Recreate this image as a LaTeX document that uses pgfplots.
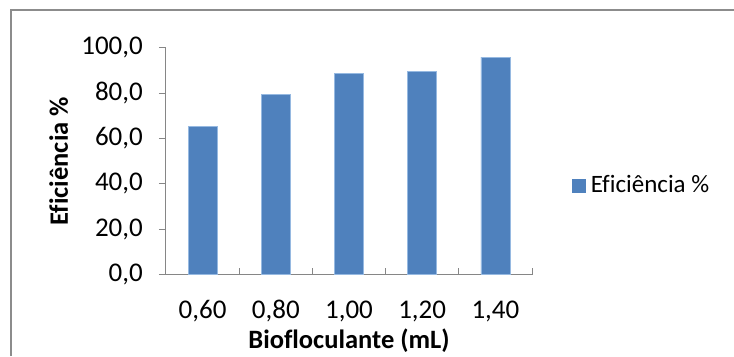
\documentclass[border=0pt]{standalone}
\usepackage{fontspec}
\setmainfont{Carlito}[Ligatures=NoCommon]
\usepackage{pgfplots}
\pgfplotsset{compat=1.18}
\definecolor{barblue}{RGB}{79,129,189}
\definecolor{baredge}{RGB}{150,185,225}
\definecolor{axisgray}{RGB}{134,134,134}
\definecolor{framegray}{RGB}{140,140,140}
\begin{document}
\fontsize{25bp}{30bp}\selectfont
\begin{tikzpicture}[x=1bp,y=1bp]
\path[use as bounding box] (-166,-81.3) rectangle (568,274.7);
% chart area border
\draw[framegray, line width=1.5bp] (-155,-81.3) -- (-155,264.7) -- (568,264.7);
\begin{axis}[
  at={(0,0)}, anchor=south west,
  scale only axis, width=366bp, height=227bp,
  xmin=-0.5, xmax=4.5, ymin=0, ymax=100,
  axis x line*=bottom, axis y line*=left,
  axis line style={axisgray, line width=1bp},
  ybar, bar width=29bp,
  xtick={0,1,2,3,4},
  xticklabels={0{,}60,0{,}80,1{,}00,1{,}20,1{,}40},
  major x tick style={draw=none},
  minor xtick={-0.5,0.5,1.5,2.5,3.5,4.5},
  minor x tick style={axisgray, line width=1bp},
  minor tick length=7bp,
  xtick align=inside,
  ytick={0,20,40,60,80,100},
  ytick align=outside,
  major y tick style={axisgray, line width=1bp},
  major tick length=7bp,
  /pgf/number format/fixed,
  /pgf/number format/fixed zerofill,
  /pgf/number format/precision=1,
  /pgf/number format/use comma,
  /pgf/number format/assume math mode=true,
  yticklabel style={anchor=east, inner sep=0pt, xshift=-16bp},
  xticklabel style={anchor=base, inner sep=0pt, yshift=-43.3bp},
  tick label style={font=\fontsize{27bp}{32bp}\selectfont},
  xlabel={Biofloculante (mL)},
  ylabel={Eficiência \%},
  every axis x label/.style={at={(axis description cs:0.5,-0.327)}, anchor=base, inner sep=0pt, font=\fontsize{26.5bp}{32bp}\selectfont\bfseries},
  every axis y label/.style={at={(axis description cs:-0.293,0.5)}, anchor=center, rotate=90, font=\fontsize{26.5bp}{32bp}\selectfont\bfseries},
  legend style={at={(1.109,0.39)}, anchor=west, draw=none, fill=none, inner sep=0pt,
    font=\fontsize{25bp}{30bp}\selectfont},
  legend image code/.code={\fill[barblue] (0bp,-6.5bp) rectangle (13bp,6.5bp);},
  clip=false,
]
\addplot[fill=barblue, draw=baredge, line width=0.7bp] coordinates {
  (0,65.5) (1,79.4) (2,88.8) (3,89.7) (4,95.9)
};
\addlegendentry{\hspace{3bp}Eficiência \%}
\end{axis}
\end{tikzpicture}
\end{document}
